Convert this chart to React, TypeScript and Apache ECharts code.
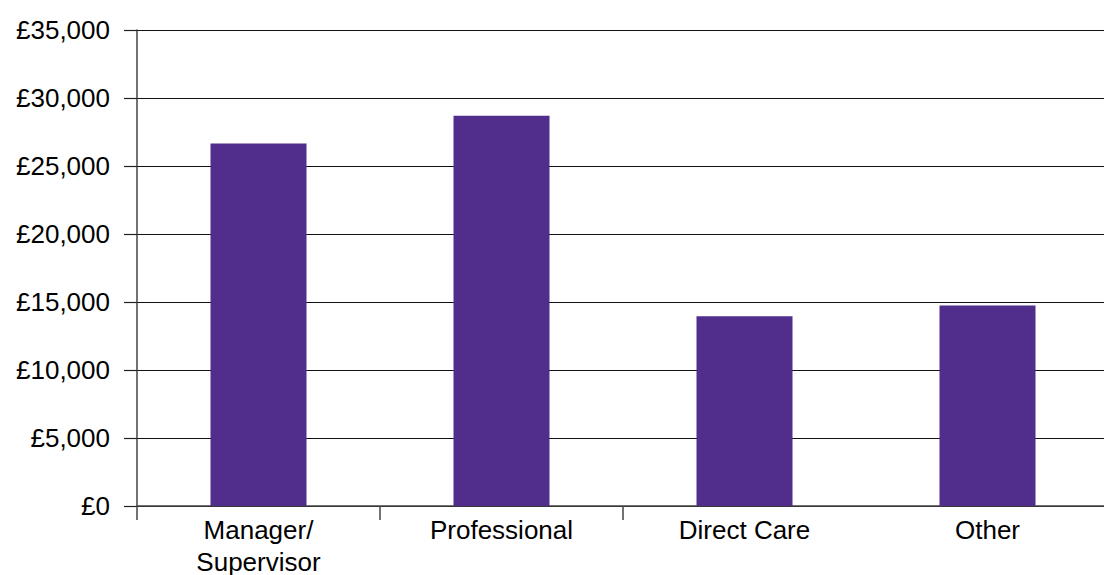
import React, { useEffect, useRef } from "react";
import * as echarts from "echarts";

const categories = ["Manager/\nSupervisor", "Professional", "Direct Care", "Other"];
const salaries = [26650, 28700, 13950, 14750];
const yTicks = { min: 0, max: 35000, interval: 5000 };

const fmt = (v: number) => "£" + String(v).replace(/\B(?=(\d{3})+(?!\d))/g, ",");

export default function App() {
  const ref = useRef<HTMLDivElement>(null);
  useEffect(() => {
    const chart = echarts.init(ref.current!, undefined, { renderer: "svg" });
    chart.setOption({
      animation: false,
      textStyle: { fontFamily: "Liberation Sans, Arial, sans-serif" },
      grid: {
        left: 137,
        right: -5,
        top: 30,
        bottom: 69,
        containLabel: false,
        outerBoundsMode: "none",
      },
      xAxis: {
        type: "category",
        data: categories,
        axisLine: { show: true, lineStyle: { color: "#444", width: 1.5 } },
        axisTick: {
          show: true,
          length: 14,
          interval: (i: number) => i <= 2,
          lineStyle: { color: "#444", width: 1.5 },
        },
        axisLabel: {
          color: "#000",
          fontSize: 26,
          lineHeight: 32,
          margin: 8,
          fontFamily: "Liberation Sans, Arial, sans-serif",
        },
      },
      yAxis: {
        type: "value",
        min: yTicks.min,
        max: yTicks.max,
        interval: yTicks.interval,
        axisLine: { show: true, lineStyle: { color: "#444", width: 1.5 } },
        axisTick: { show: true, length: 13, lineStyle: { color: "#222", width: 1.2 } },
        splitLine: { show: true, lineStyle: { color: "#111", width: 1.2 } },
        axisLabel: {
          color: "#000",
          fontSize: 26,
          margin: 27,
          formatter: (v: number) => fmt(v),
          fontFamily: "Liberation Sans, Arial, sans-serif",
        },
      },
      series: [
        {
          type: "bar",
          data: salaries,
          barWidth: 96,
          itemStyle: { color: "#512E8C" },
        },
      ],
    });
    return () => chart.dispose();
  }, []);
  return (
    <div
      ref={ref}
      style={{ position: "fixed", left: 0, top: 0, width: 1104, height: 575, background: "#fff" }}
    />
  );
}
